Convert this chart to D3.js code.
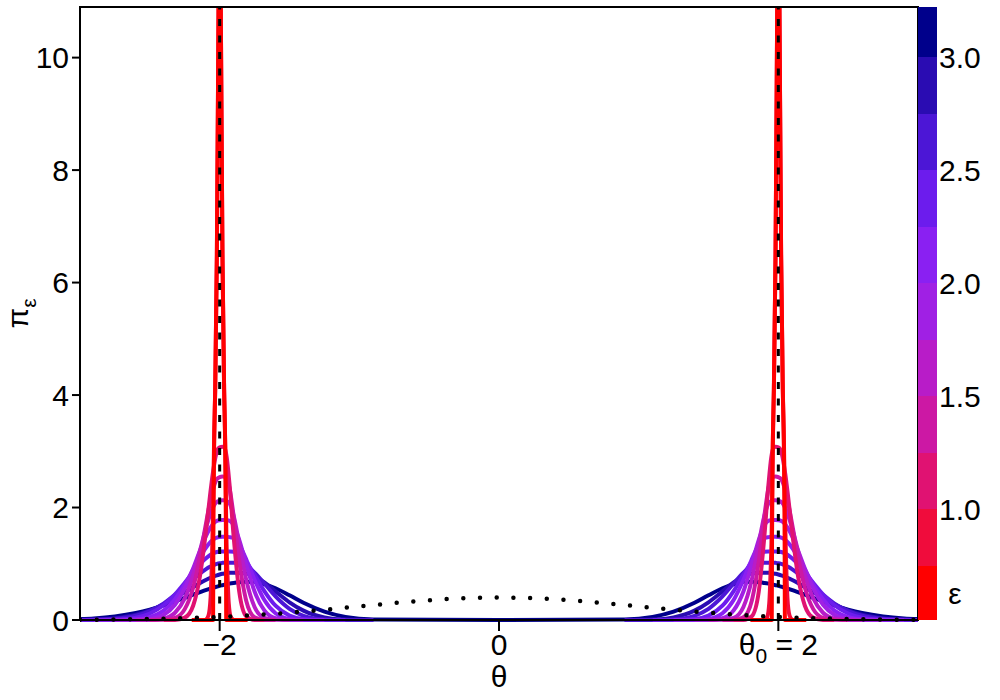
<!DOCTYPE html>
<html>
<head>
<meta charset="utf-8">
<script src="https://cdn.jsdelivr.net/npm/d3@7"></script>
<style>
  body { margin: 0; background: #fff; }
  text { font-family: "Liberation Sans", Arial, sans-serif; fill: #000; }
</style>
</head>
<body>
<svg id="chart" width="1000" height="700"></svg>
<script>
// right-hand peak (theta0 = 2); the left peak is drawn as its mirror image
var thetaRight = [0, 0.9, 1.1, 1.25, 1.4, 1.5, 1.6, 1.68, 1.75, 1.81, 1.86, 1.9, 1.93, 1.95, 1.965, 1.98,
                  2.0, 2.02, 2.035, 2.05, 2.07, 2.1, 2.14, 2.19, 2.25, 2.32, 2.4, 2.5, 2.6, 2.75, 2.9, 3.0];
// finer grid for the two sharpest curves
var thetaSpike = [1.8, 1.88, 1.9, 1.92, 1.935, 1.945, 1.953, 1.955, 1.96, 1.968, 1.98, 1.992, 2.0,
                  2.008, 2.02, 2.032, 2.04, 2.045, 2.047, 2.055, 2.065, 2.08, 2.1, 2.12, 2.2];

var densEps050 = [0, 0, 0, 0, 0, 0, 0, 1.5, 3.0, 4.1, 6.5, 10.9, 13,
                  10.9, 6.5, 4.1, 3.0, 1.5, 0, 0, 0, 0, 0, 0, 0];
var densEps075 = [null, null, 0, 0.05, 0.3, 0.9, 1.7, 2.1, 3.1, 4.1, 6.5, 10.9, 13,
                  10.9, 6.5, 4.1, 3.2, 2.3, 2.0, 1.1, 0.4, 0.08, 0, null, null];
var densEps100 = [null, null, null, null, null, null, null, 0, 0.002, 0.068, 0.508, 1.488, 2.427, 2.902, 3.06, 3.08,
                  3.07, 2.997, 2.831, 2.59, 2.193, 1.543, 0.795, 0.253, 0.041, 0.002, 0, null, null, null, null, null];
var densEps125 = [null, null, null, null, null, null, 0, 0.002, 0.05, 0.344, 1.048, 1.851, 2.354, 2.52, 2.545, 2.55,
                  2.54, 2.508, 2.425, 2.30, 2.083, 1.688, 1.135, 0.574, 0.193, 0.037, 0.003, 0, null, null, null, null];
var densEps150 = [null, null, null, null, null, 0, 0.003, 0.038, 0.232, 0.718, 1.361, 1.855, 2.075, 2.115, 2.128, 2.13,
                  2.12, 2.1, 2.06, 1.989, 1.862, 1.619, 1.244, 0.792, 0.383, 0.129, 0.026, 0.002, 0, null, null, null];
var densEps175 = [null, null, null, null, 0, 0.002, 0.032, 0.17, 0.508, 0.99, 1.426, 1.684, 1.765, 1.776, 1.78, 1.78,
                  1.774, 1.762, 1.741, 1.70, 1.627, 1.481, 1.242, 0.917, 0.564, 0.272, 0.094, 0.018, 0.002, 0, null, null];
var densEps200 = [null, null, null, 0, 0.002, 0.02, 0.12, 0.355, 0.715, 1.08, 1.339, 1.455, 1.474, 1.479, 1.48, 1.479,
                  1.475, 1.466, 1.449, 1.422, 1.375, 1.28, 1.122, 0.898, 0.629, 0.369, 0.172, 0.052, 0.012, 0.001, 0, null];
var densEps225 = [null, null, 0, 0.001, 0.017, 0.078, 0.254, 0.515, 0.804, 1.036, 1.171, 1.214, 1.219, 1.22, 1.22, 1.22,
                  1.217, 1.21, 1.198, 1.181, 1.152, 1.093, 0.996, 0.849, 0.662, 0.455, 0.266, 0.116, 0.042, 0.007, 0.001, 0];
var densEps250 = [null, 0, 0.001, 0.011, 0.075, 0.198, 0.419, 0.649, 0.843, 0.965, 1.013, 1.02, 1.02, 1.02, 1.019, 1.016,
                  1.01, 0.997, 0.984, 0.969, 0.945, 0.90, 0.829, 0.728, 0.597, 0.447, 0.297, 0.159, 0.075, 0.019, 0.004, 0.001];
var densEps275 = [null, 0.001, 0.009, 0.047, 0.166, 0.315, 0.509, 0.667, 0.775, 0.829, 0.84, 0.84, 0.838, 0.834, 0.828, 0.821,
                  0.809, 0.795, 0.782, 0.768, 0.747, 0.711, 0.659, 0.586, 0.494, 0.388, 0.279, 0.17, 0.095, 0.033, 0.009, 0.004];
var densEps300 = [0, 0.011, 0.056, 0.15, 0.307, 0.44, 0.564, 0.638, 0.675, 0.679, 0.671, 0.659, 0.647, 0.637, 0.628, 0.619,
                  0.607, 0.593, 0.582, 0.571, 0.556, 0.53, 0.496, 0.45, 0.394, 0.329, 0.26, 0.185, 0.125, 0.063, 0.028, 0.016];

var epsValues = [0.5, 0.75, 1.0, 1.25, 1.5, 1.75, 2.0, 2.25, 2.5, 2.75, 3.0];
var epsColors = ['#ff0000', '#f00c3c', '#e01272', '#cc18a4', '#b81cc8', '#a020e4',
                 '#8a20f2', '#6c1ced', '#4c16d6', '#2a0cb2', '#00008b'];
var densities = [densEps050, densEps075, densEps100, densEps125, densEps150, densEps175,
                 densEps200, densEps225, densEps250, densEps275, densEps300];
var grids = [thetaSpike, thetaSpike, thetaRight, thetaRight, thetaRight, thetaRight,
             thetaRight, thetaRight, thetaRight, thetaRight, thetaRight];

// prior (dotted)
var priorTheta = [-3, -2.75, -2.5, -2.25, -2, -1.75, -1.5, -1.25, -1, -0.75, -0.5, -0.25, 0,
                  0.25, 0.5, 0.75, 1, 1.25, 1.5, 1.75, 2, 2.25, 2.5, 2.75, 3];
var priorDens = [0.004, 0.009, 0.018, 0.032, 0.054, 0.086, 0.130, 0.183, 0.242, 0.301, 0.352, 0.387, 0.399,
                 0.387, 0.352, 0.301, 0.242, 0.183, 0.130, 0.086, 0.054, 0.032, 0.018, 0.009, 0.004];

var yTicks = [0, 2, 4, 6, 8, 10];
var epsTicks = [1.0, 1.5, 2.0, 2.5, 3.0];
var theta0 = 2;

var plotLeft = 80, plotRight = 918, plotTop = 7, plotBottom = 620;
var svg = d3.select('#chart');

var x = d3.scaleLinear().domain([-3, 3]).range([plotLeft, plotRight]);
var y = d3.scaleLinear().domain([0, 10.9]).range([plotBottom, plotTop]);
var epsY = d3.scaleLinear().domain([0.5, 3.0]).range([622, 57]);

svg.append('clipPath').attr('id', 'plotClip')
    .append('rect').attr('x', plotLeft).attr('y', plotTop)
    .attr('width', plotRight - plotLeft).attr('height', plotBottom - plotTop + 2);

var plot = svg.append('g').attr('clip-path', 'url(#plotClip)');

var line = d3.line()
    .x(function (d) { return x(d[0]); })
    .y(function (d) { return y(d[1]); })
    .curve(d3.curveMonotoneX);

function drawCurve(thetas, values, color) {
    var rightPts = [], leftPts = [];
    for (var i = 0; i < thetas.length; i++) {
        if (values[i] === null) continue;
        rightPts.push([thetas[i], values[i]]);
        leftPts.unshift([-thetas[i], values[i]]);
    }
    [leftPts, rightPts].forEach(function (pts) {
        plot.append('path')
            .attr('d', line(pts))
            .attr('fill', 'none')
            .attr('stroke', color)
            .attr('stroke-width', 4)
            .attr('stroke-linejoin', 'round');
    });
}

// widest (navy) first, red spike on top
for (var k = densities.length - 1; k >= 0; k--) {
    drawCurve(grids[k], densities[k], epsColors[k]);
}

// dashed lines at +/- theta0
[-theta0, theta0].forEach(function (t) {
    plot.append('line')
        .attr('x1', x(t)).attr('x2', x(t))
        .attr('y1', plotBottom).attr('y2', plotTop)
        .attr('stroke', 'black')
        .attr('stroke-width', 3)
        .attr('stroke-dasharray', '7,9.5');
});

// dotted prior
plot.append('path')
    .attr('d', line(priorTheta.map(function (t, i) { return [t, priorDens[i]]; })))
    .attr('fill', 'none')
    .attr('stroke', 'black')
    .attr('stroke-width', 4.5)
    .attr('stroke-linecap', 'round')
    .attr('stroke-dasharray', '0,16.7');

// frame
svg.append('rect')
    .attr('x', plotLeft).attr('y', plotTop)
    .attr('width', plotRight - plotLeft).attr('height', plotBottom - plotTop)
    .attr('fill', 'none').attr('stroke', 'black').attr('stroke-width', 2);

// y axis
yTicks.forEach(function (v) {
    svg.append('line').attr('x1', plotLeft - 8).attr('x2', plotLeft)
        .attr('y1', y(v)).attr('y2', y(v))
        .attr('stroke', 'black').attr('stroke-width', 2);
    svg.append('text').attr('x', plotLeft - 11).attr('y', y(v))
        .attr('text-anchor', 'end').attr('dominant-baseline', 'central')
        .style('font-size', '30px').text(v);
});

// x axis
[-theta0, 0, theta0].forEach(function (v) {
    svg.append('line').attr('x1', x(v)).attr('x2', x(v))
        .attr('y1', plotBottom).attr('y2', plotBottom + 11)
        .attr('stroke', 'black').attr('stroke-width', 2);
});
svg.append('text').attr('x', x(-theta0)).attr('y', 655)
    .attr('text-anchor', 'middle').style('font-size', '30px').text('\u2212' + theta0);
svg.append('text').attr('x', x(0)).attr('y', 655)
    .attr('text-anchor', 'middle').style('font-size', '30px').text('0');
var t0 = svg.append('text').attr('x', x(theta0)).attr('y', 655)
    .attr('text-anchor', 'middle').style('font-size', '30px');
t0.append('tspan').text('\u03b8');
t0.append('tspan').attr('dy', 8).style('font-size', '21px').text('0');
t0.append('tspan').attr('dy', -8).text(' = ' + theta0);

svg.append('text').attr('x', x(0)).attr('y', 687)
    .attr('text-anchor', 'middle').style('font-size', '30px').text('\u03b8');

var ylab = svg.append('text')
    .attr('transform', 'translate(28,' + ((plotTop + plotBottom) / 2) + ') rotate(-90)')
    .attr('text-anchor', 'middle').style('font-size', '30px');
ylab.append('tspan').text('\u03c0');
ylab.append('tspan').attr('dy', 8).style('font-size', '21px').text('\u03b5');

// colour bar
var barX = 918, barW = 19;
epsValues.forEach(function (e, i) {
    var y0 = Math.min(plotBottom, epsY(e));
    var y1 = Math.max(plotTop, epsY(e + 0.25));
    svg.append('rect').attr('x', barX).attr('y', y1)
        .attr('width', barW).attr('height', y0 - y1)
        .attr('fill', epsColors[i]).attr('shape-rendering', 'crispEdges');
});
epsTicks.forEach(function (e) {
    svg.append('text').attr('x', barX + barW + 2).attr('y', epsY(e))
        .attr('dominant-baseline', 'central')
        .style('font-size', '30px').text(e.toFixed(1));
});
svg.append('text').attr('x', barX + barW + 18).attr('y', epsY(0.625))
    .attr('text-anchor', 'middle').attr('dominant-baseline', 'central')
    .style('font-size', '30px').text('\u03b5');
</script>
</body>
</html>
